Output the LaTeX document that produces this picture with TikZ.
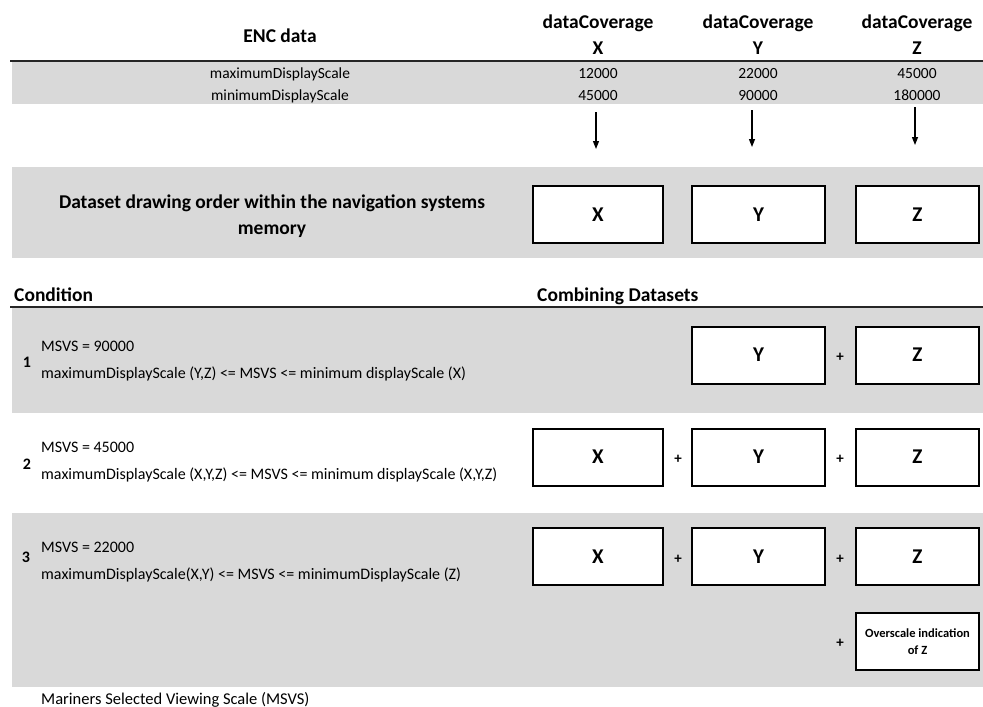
\documentclass[tikz,border=0pt]{standalone}
\usepackage{fontspec}
\setmainfont{Carlito}
\usetikzlibrary{arrows.meta}
\definecolor{bandgray}{HTML}{D9D9D9}
\begin{document}
\begin{tikzpicture}[x=1pt,y=-1pt,
  rule/.style={line width=2.5pt, black!85},
  strut/.style={text height=0.72em, text depth=0.22em},
  setbox/.style={draw=black, line width=2pt, fill=white, minimum height=57pt,
    inner sep=0pt, font=\fontsize{21}{24}\selectfont\bfseries},
  head/.style={font=\fontsize{19.5}{26}\selectfont\bfseries, align=center, inner sep=0pt},
  small/.style={font=\fontsize{15.5}{22}\selectfont, inner sep=0pt, strut},
  cond/.style={font=\fontsize{16}{27}\selectfont, align=left, anchor=west, inner sep=0pt},
  num/.style={font=\fontsize{16}{20}\selectfont\bfseries, inner sep=0pt},
  plus/.style={font=\fontsize{15}{18}\selectfont\bfseries, inner sep=0pt},
  down/.style={-{Triangle[length=8pt,width=6pt]}, line width=1.3pt}
]
\useasboundingbox (0,0) rectangle (983,707);

% shaded bands
\fill[bandgray] (12,62) rectangle (983,104);
\fill[bandgray] (12,167) rectangle (983,258);
\fill[bandgray] (12,308) rectangle (983,413);
\fill[bandgray] (12,513) rectangle (983,687);

% heading rules
\draw[rule] (10,61) -- (983,61);
\draw[rule] (10,307) -- (983,307);

% table header
\node[head, strut] (enc) at (280,40) {ENC data};
\node[head] (dcx) at (598,35) {dataCoverage\\X};
\node[head] (dcy) at (758,35) {dataCoverage\\Y};
\node[head] (dcz) at (917,35) {dataCoverage\\Z};

\node[small] (maxlbl) at (280,76) {maximumDisplayScale};
\node[small] (minlbl) at (280,98) {minimumDisplayScale};
\node[small] (maxx) at (598,76) {12000};
\node[small] (minx) at (598,98) {45000};
\node[small] (maxy) at (758,76) {22000};
\node[small] (miny) at (758,98) {90000};
\node[small] (maxz) at (917,76) {45000};
\node[small] (minz) at (917,98) {180000};

% arrows down to the drawing order
\coordinate (ax1) at (596,112); \coordinate (ax2) at (596,149);
\coordinate (ay1) at (752,110); \coordinate (ay2) at (752,147);
\coordinate (az1) at (915,107); \coordinate (az2) at (915,145);
\draw[down] (ax1) -- (ax2);
\draw[down] (ay1) -- (ay2);
\draw[down] (az1) -- (az2);

% drawing order
\node[head] (order) at (272,216) {Dataset drawing order within the navigation systems\\memory};
\node[setbox, minimum width=130pt] (ox) at (598,214.5) {X};
\node[setbox, minimum width=133pt] (oy) at (758.5,214.5) {Y};
\node[setbox, minimum width=123pt] (oz) at (917.5,214.5) {Z};

% second header
\node[head, strut, anchor=west] (condh) at (14,299) {Condition};
\node[head, strut, anchor=west] (combh) at (537,299) {Combining Datasets};

% condition 1
\node[num] (n1) at (27,362) {1};
\node[cond] (c1) at (41,361) {MSVS = 90000\\maximumDisplayScale (Y,Z) <= MSVS <= minimum displayScale (X)};
\node[setbox, minimum width=133pt] (y1) at (758.5,355) {Y};
\node[setbox, minimum width=123pt] (z1) at (917.5,355) {Z};
\node[plus] (p1a) at (840,357) {+};

% condition 2
\node[num] (n2) at (27,464) {2};
\node[cond] (c2) at (41,462) {MSVS = 45000\\maximumDisplayScale (X,Y,Z) <= MSVS <= minimum displayScale (X,Y,Z)};
\node[setbox, minimum width=130pt] (x2) at (598,457) {X};
\node[setbox, minimum width=133pt] (y2) at (758.5,457) {Y};
\node[setbox, minimum width=123pt] (z2) at (917.5,457) {Z};
\node[plus] (p2a) at (678,459) {+};
\node[plus] (p2b) at (840,459) {+};

% condition 3
\node[num] (n3) at (26,557) {3};
\node[cond] (c3) at (41,562) {MSVS = 22000\\maximumDisplayScale(X,Y) <= MSVS <= minimumDisplayScale (Z)};
\node[setbox, minimum width=130pt] (x3) at (598,556.5) {X};
\node[setbox, minimum width=133pt] (y3) at (758.5,556.5) {Y};
\node[setbox, minimum width=123pt] (z3) at (917.5,556.5) {Z};
\node[plus] (p3a) at (678,559) {+};
\node[plus] (p3b) at (840,559) {+};
\node[setbox, minimum width=123pt, align=center, font=\fontsize{12.5}{17}\selectfont\bfseries] (ov) at (917.5,641.5) {Overscale indication\\of Z};
\node[plus] (p3c) at (840,643) {+};

% footnote
\node[font=\fontsize{16.5}{20}\selectfont, anchor=base west, inner sep=0pt] (foot) at (41,704) {Mariners Selected Viewing Scale (MSVS)};
\end{tikzpicture}
\end{document}
